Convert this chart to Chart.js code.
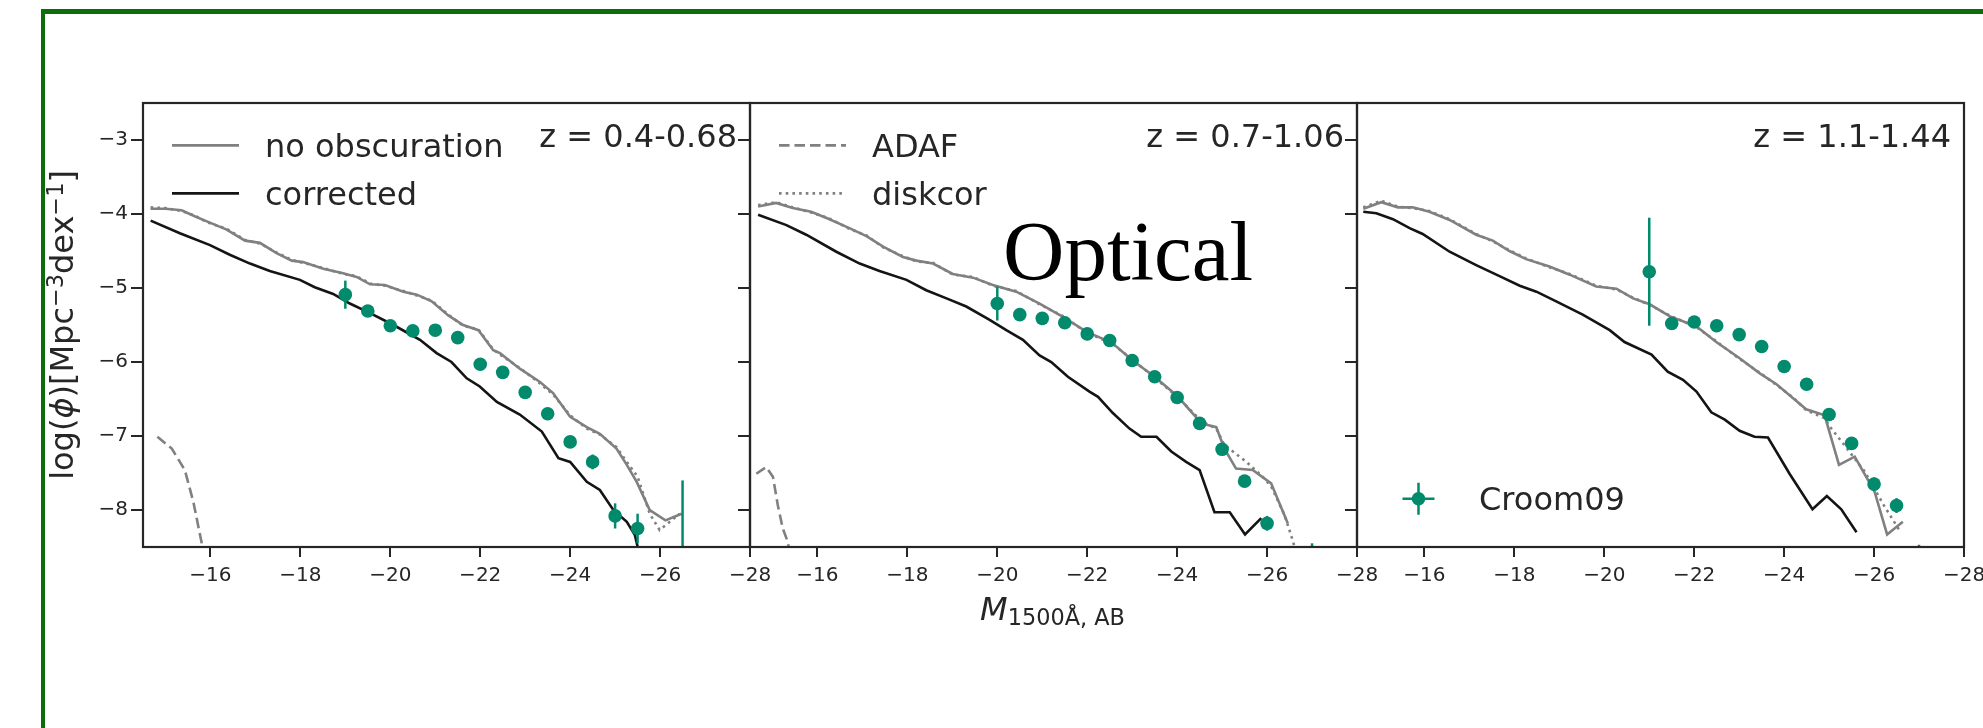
<!DOCTYPE html>
<html>
<head>
<meta charset="utf-8">
<script src="https://cdn.jsdelivr.net/npm/chart.js@4.4.1/dist/chart.umd.min.js"></script>
<style>
  html, body { margin: 0; padding: 0; background: #ffffff; }
  body { width: 1983px; height: 728px; position: relative; overflow: hidden; }
  #frame { position: absolute; left: 41px; top: 9px; width: 1990px; height: 760px;
           border-left: 4px solid #0c6d0c; border-top: 5px solid #0c6d0c; }
  canvas { position: absolute; top: 0; }
</style>
</head>
<body>
<div id="frame"></div>
<canvas id="panel1" width="747" height="728" style="left:33px"></canvas>
<canvas id="panel2" width="747" height="728" style="left:640px"></canvas>
<canvas id="panel3" width="747" height="728" style="left:1247px"></canvas>
<script>
// ---- axis ticks and bin labels ----
const zBins = ['z = 0.4-0.68', 'z = 0.7-1.06', 'z = 1.1-1.44'];
const magTicks = [-28, -26, -24, -22, -20, -18, -16];
const phiTicks = [-8, -7, -6, -5, -4, -3];

// ---- z = 0.4-0.68 ----
const noObsMag1 = [-14.67, -15.0, -15.36, -15.65, -15.92, -16.36, -16.77, -17.10, -17.47, -17.81, -18.06, -18.51, -18.95, -19.25, -19.55, -19.88, -20.29, -20.59, -20.92, -21.29, -21.62, -21.96, -22.29, -22.44, -22.88, -23.33, -23.62, -24.0, -24.37, -24.66, -25.03, -25.26, -25.48, -25.77, -26.12, -26.48];
const noObsPhi1 = [-3.93, -3.93, -3.95, -4.03, -4.10, -4.21, -4.36, -4.39, -4.53, -4.63, -4.65, -4.74, -4.80, -4.85, -4.95, -4.96, -5.05, -5.09, -5.18, -5.37, -5.50, -5.57, -5.84, -5.88, -6.09, -6.27, -6.42, -6.74, -6.88, -6.97, -7.17, -7.39, -7.62, -8.00, -8.14, -8.05];
const diskMag1 = [-14.67, -15.0, -15.36, -15.65, -15.92, -16.36, -16.77, -17.10, -17.47, -17.81, -18.06, -18.51, -18.95, -19.25, -19.55, -19.88, -20.29, -20.59, -20.92, -21.29, -21.62, -21.96, -22.29, -22.44, -22.88, -23.33, -23.62, -24.0, -24.37, -24.66, -25.03, -25.26, -25.50, -25.77, -25.99, -26.44];
const diskPhi1 = [-3.91, -3.92, -3.96, -4.02, -4.11, -4.20, -4.35, -4.40, -4.52, -4.62, -4.66, -4.73, -4.81, -4.84, -4.94, -4.97, -5.04, -5.10, -5.17, -5.36, -5.51, -5.56, -5.83, -5.90, -6.08, -6.29, -6.44, -6.72, -6.90, -6.98, -7.15, -7.35, -7.55, -8.05, -8.27, -8.05];
const corrMag1 = [-14.67, -15.32, -15.99, -16.43, -16.88, -17.32, -17.99, -18.32, -18.73, -19.10, -19.55, -20.07, -20.66, -21.03, -21.36, -21.70, -21.99, -22.37, -22.88, -23.37, -23.74, -24.0, -24.37, -24.66, -24.96, -25.26, -25.44, -25.60];
const corrPhi1 = [-4.09, -4.26, -4.42, -4.55, -4.67, -4.77, -4.89, -4.99, -5.08, -5.21, -5.34, -5.50, -5.70, -5.88, -6.00, -6.22, -6.33, -6.54, -6.71, -6.94, -7.30, -7.35, -7.62, -7.73, -8.00, -8.16, -8.34, -8.75];
const adafMag1 = [-14.82, -15.14, -15.43, -15.62, -15.80, -15.90];
const adafPhi1 = [-7.01, -7.17, -7.46, -7.89, -8.43, -8.80];
const croomMag1 = [-19.0, -19.5, -20.0, -20.5, -21.0, -21.5, -22.0, -22.5, -23.0, -23.5, -24.0, -24.5, -25.0, -25.5, -26.5];
const croomPhi1 = [-5.09, -5.31, -5.51, -5.58, -5.57, -5.67, -6.03, -6.14, -6.41, -6.70, -7.08, -7.35, -8.08, -8.25, -8.90];
const croomErr1 = [0.19, 0.03, 0.03, 0.03, 0.03, 0.04, 0.05, 0.05, 0.06, 0.07, 0.08, 0.10, 0.17, 0.20, 1.30];

// ---- z = 0.7-1.06 ----
const noObsMag2 = [-14.68, -15.08, -15.45, -15.86, -16.23, -16.71, -17.09, -17.46, -17.90, -18.20, -18.57, -19.01, -19.46, -19.90, -20.42, -20.94, -21.46, -21.98, -22.55, -23.01, -23.50, -24.02, -24.54, -24.87, -25.05, -25.31, -25.68, -26.09, -26.46];
const noObsPhi2 = [-3.90, -3.85, -3.92, -3.97, -4.06, -4.19, -4.30, -4.44, -4.58, -4.63, -4.67, -4.81, -4.86, -4.96, -5.05, -5.21, -5.39, -5.59, -5.74, -5.98, -6.20, -6.47, -6.83, -6.88, -7.17, -7.44, -7.46, -7.64, -8.18];
const diskMag2 = [-14.68, -15.08, -15.45, -15.86, -16.23, -16.71, -17.09, -17.46, -17.90, -18.20, -18.57, -19.01, -19.46, -19.90, -20.42, -20.94, -21.46, -21.98, -22.55, -23.01, -23.50, -24.02, -24.54, -24.87, -25.05, -25.54, -25.90, -26.09, -26.39, -26.57, -26.70];
const diskPhi2 = [-3.88, -3.84, -3.91, -3.98, -4.05, -4.20, -4.29, -4.45, -4.57, -4.64, -4.66, -4.82, -4.85, -4.97, -5.04, -5.22, -5.38, -5.60, -5.75, -5.97, -6.21, -6.48, -6.80, -6.90, -7.12, -7.35, -7.55, -7.68, -8.07, -8.41, -8.70];
const corrMag2 = [-14.68, -15.31, -15.75, -16.42, -16.94, -17.38, -17.98, -18.42, -18.87, -19.31, -19.83, -20.20, -20.57, -20.94, -21.20, -21.57, -22.05, -22.24, -22.57, -22.94, -23.20, -23.54, -23.87, -24.20, -24.50, -24.83, -25.17, -25.51, -25.87];
const corrPhi2 = [-4.01, -4.15, -4.28, -4.51, -4.67, -4.77, -4.89, -5.03, -5.14, -5.25, -5.43, -5.57, -5.70, -5.91, -6.00, -6.20, -6.40, -6.47, -6.69, -6.90, -7.01, -7.01, -7.21, -7.35, -7.46, -8.03, -8.03, -8.33, -8.11];
const adafMag2 = [-14.64, -14.86, -15.01, -15.12, -15.23, -15.34, -15.42];
const adafPhi2 = [-7.51, -7.42, -7.55, -7.94, -8.25, -8.43, -8.70];
const croomMag2 = [-20.0, -20.5, -21.0, -21.5, -22.0, -22.5, -23.0, -23.5, -24.0, -24.5, -25.0, -25.5, -26.0, -27.0];
const croomPhi2 = [-5.21, -5.36, -5.41, -5.47, -5.62, -5.71, -5.98, -6.20, -6.48, -6.83, -7.18, -7.61, -8.18, -8.90];
const croomErr2 = [0.23, 0.03, 0.03, 0.03, 0.03, 0.04, 0.04, 0.05, 0.05, 0.06, 0.07, 0.08, 0.10, 0.45];

// ---- z = 1.1-1.44 ----
const noObsMag3 = [-14.64, -15.04, -15.41, -15.74, -16.11, -16.56, -17.15, -17.52, -17.89, -18.26, -18.78, -19.23, -19.82, -20.27, -20.64, -21.01, -21.45, -22.05, -22.49, -23.01, -23.45, -23.83, -24.20, -24.49, -24.90, -25.22, -25.57, -26.01, -26.29, -26.64];
const noObsPhi3 = [-3.93, -3.84, -3.91, -3.91, -3.97, -4.08, -4.28, -4.36, -4.50, -4.61, -4.71, -4.82, -4.98, -5.01, -5.14, -5.22, -5.38, -5.52, -5.73, -5.95, -6.15, -6.30, -6.49, -6.64, -6.72, -7.39, -7.28, -7.75, -8.33, -8.16];
const diskMag3 = [-14.64, -15.04, -15.41, -15.74, -16.11, -16.56, -17.15, -17.52, -17.89, -18.26, -18.78, -19.23, -19.82, -20.27, -20.64, -21.01, -21.45, -22.05, -22.49, -23.01, -23.45, -23.83, -24.20, -24.49, -24.75, -24.90, -25.05, -25.31, -25.79, -26.24, -26.57];
const diskPhi3 = [-3.91, -3.82, -3.90, -3.92, -3.96, -4.07, -4.27, -4.37, -4.49, -4.60, -4.72, -4.81, -4.97, -5.02, -5.13, -5.23, -5.37, -5.53, -5.72, -5.96, -6.14, -6.31, -6.48, -6.65, -6.72, -6.76, -6.90, -7.10, -7.48, -7.96, -8.28];
const corrMag3 = [-14.64, -14.93, -15.30, -15.67, -15.96, -16.56, -17.15, -17.67, -18.12, -18.49, -18.93, -19.52, -20.12, -20.45, -21.05, -21.41, -21.75, -22.05, -22.38, -22.68, -23.01, -23.34, -23.64, -24.12, -24.63, -24.95, -25.27, -25.61];
const corrPhi3 = [-3.97, -3.99, -4.07, -4.19, -4.27, -4.51, -4.69, -4.84, -4.97, -5.05, -5.18, -5.36, -5.57, -5.73, -5.90, -6.13, -6.24, -6.40, -6.68, -6.78, -6.93, -7.01, -7.02, -7.51, -7.99, -7.81, -7.99, -8.30];
const adafMag3 = [];
const adafPhi3 = [];
const croomMag3 = [-21.0, -21.5, -22.0, -22.5, -23.0, -23.5, -24.0, -24.5, -25.0, -25.5, -26.0, -26.5, -27.0];
const croomPhi3 = [-4.78, -5.48, -5.46, -5.51, -5.63, -5.79, -6.06, -6.30, -6.71, -7.10, -7.65, -7.94, -8.90];
const croomErr3 = [0.73, 0.03, 0.03, 0.03, 0.04, 0.04, 0.05, 0.05, 0.06, 0.07, 0.09, 0.10, 0.43];

// ---- styling ----
const GRAY = '#808080';
const BLACK = '#141414';
const GREEN = '#018a6c';
const INK = '#262626';
const FONT = '"DejaVu Sans", sans-serif';
const DASH_ADAF = [10.5, 5];
const DASH_DISK = [2.6, 4.1];

const toXY = (mags, phis) => mags.map((m, i) => ({ x: m, y: phis[i] }));
const fmtTick = v => (v < 0 ? '\u2212' + Math.abs(v) : String(v));

const panels = [
  { canvas: 'panel1', z: zBins[0], yLabels: true,
    noObs: [noObsMag1, noObsPhi1], disk: [diskMag1, diskPhi1], corr: [corrMag1, corrPhi1],
    adaf: [adafMag1, adafPhi1], croom: [croomMag1, croomPhi1, croomErr1],
    legend: ['no obscuration', 'corrected'] },
  { canvas: 'panel2', z: zBins[1], yLabels: false,
    noObs: [noObsMag2, noObsPhi2], disk: [diskMag2, diskPhi2], corr: [corrMag2, corrPhi2],
    adaf: [adafMag2, adafPhi2], croom: [croomMag2, croomPhi2, croomErr2],
    legend: ['ADAF', 'diskcor'], xTitle: true, stamp: 'Optical' },
  { canvas: 'panel3', z: zBins[2], yLabels: false,
    noObs: [noObsMag3, noObsPhi3], disk: [diskMag3, diskPhi3], corr: [corrMag3, corrPhi3],
    adaf: [adafMag3, adafPhi3], croom: [croomMag3, croomPhi3, croomErr3],
    legend: ['Croom09'] }
];

// vertical error bars under the Croom09 markers
const errorBars = {
  id: 'errorBars',
  beforeDatasetDraw(chart, args) {
    const ds = chart.data.datasets[args.index];
    if (!ds.errors) return;
    const { ctx, chartArea: a } = chart;
    const xs = chart.scales.x, ys = chart.scales.y;
    ctx.save();
    ctx.beginPath();
    ctx.rect(a.left, a.top, a.right - a.left, a.bottom - a.top);
    ctx.clip();
    ctx.strokeStyle = ds.pointBackgroundColor;
    ctx.lineWidth = 2.5;
    ds.data.forEach((p, i) => {
      const e = ds.errors[i];
      const px = xs.getPixelForValue(p.x);
      ctx.beginPath();
      ctx.moveTo(px, ys.getPixelForValue(p.y + e));
      ctx.lineTo(px, ys.getPixelForValue(p.y - e));
      ctx.stroke();
    });
    ctx.restore();
  }
};

function drawLineHandle(ctx, x0, x1, y, ds) {
  ctx.save();
  ctx.strokeStyle = ds.borderColor;
  ctx.lineWidth = ds.borderWidth;
  ctx.setLineDash(ds.borderDash || []);
  ctx.beginPath();
  ctx.moveTo(x0, y);
  ctx.lineTo(x1, y);
  ctx.stroke();
  ctx.restore();
}

function drawMathLabel(ctx, parts, size) {
  // parts: [text, style] where style is 'rm', 'it', 'sup' or 'sub'
  const fontFor = s => {
    if (s === 'it') return 'italic ' + size + 'px ' + FONT;
    if (s === 'sup' || s === 'sub') return (size * 0.7) + 'px ' + FONT;
    return size + 'px ' + FONT;
  };
  let w = 0;
  parts.forEach(([t, s]) => { ctx.font = fontFor(s); w += ctx.measureText(t).width; });
  let x = -w / 2;
  parts.forEach(([t, s]) => {
    ctx.font = fontFor(s);
    const dy = s === 'sup' ? -size * 0.31 : (s === 'sub' ? size * 0.18 : 0);
    ctx.fillText(t, x, dy);
    x += ctx.measureText(t).width;
  });
}

// frame, bin label, legend and figure texts
const decor = {
  id: 'decor',
  afterDraw(chart, args, opts) {
    const { ctx, chartArea: a } = chart;
    const p = opts.panel;
    const ds = chart.data.datasets;
    const byLabel = l => ds.find(d => d.label === l);
    ctx.save();
    ctx.strokeStyle = INK;
    ctx.lineWidth = 2.2;
    ctx.strokeRect(a.left, a.top, a.right - a.left, a.bottom - a.top);

    ctx.fillStyle = INK;
    ctx.font = '32px ' + FONT;
    ctx.textAlign = 'right';
    ctx.textBaseline = 'alphabetic';
    ctx.fillText(p.z, a.right - 13, a.top + 44.4);

    ctx.textAlign = 'left';
    if (p.legend.length === 2) {
      p.legend.forEach((lab, i) => {
        const d = byLabel(lab);
        const yh = a.top + 42.4 + i * 48;
        drawLineHandle(ctx, a.left + 29, a.left + 96, yh, d);
        ctx.fillStyle = INK;
        ctx.font = '32px ' + FONT;
        ctx.fillText(lab, a.left + 122, yh + 11.6);
      });
    } else {
      const d = byLabel(p.legend[0]);
      const cx = a.left + 61.5, cy = a.top + 395.7;
      ctx.strokeStyle = d.pointBackgroundColor;
      ctx.lineWidth = 2.5;
      ctx.beginPath();
      ctx.moveTo(cx - 16, cy); ctx.lineTo(cx + 16, cy);
      ctx.moveTo(cx, cy - 16); ctx.lineTo(cx, cy + 16);
      ctx.stroke();
      ctx.fillStyle = d.pointBackgroundColor;
      ctx.beginPath();
      ctx.arc(cx, cy, d.pointRadius, 0, Math.PI * 2);
      ctx.fill();
      ctx.fillStyle = INK;
      ctx.font = '32px ' + FONT;
      ctx.fillText(p.legend[0], a.left + 122, a.top + 406.7);
    }

    if (p.yLabels) {
      ctx.save();
      ctx.fillStyle = INK;
      ctx.translate(a.left - 70.3, (a.top + a.bottom) / 2);
      ctx.rotate(-Math.PI / 2);
      ctx.textAlign = 'left';
      drawMathLabel(ctx, [['log(', 'rm'], ['\u03d5', 'it'], [')[Mpc', 'rm'], ['\u22123', 'sup'],
                          ['dex', 'rm'], ['\u22121', 'sup'], [']', 'rm']], 32);
      ctx.restore();
    }

    if (p.xTitle) {
      ctx.save();
      ctx.fillStyle = INK;
      ctx.translate(a.left + 302.5, a.bottom + 72.6);
      ctx.textAlign = 'left';
      drawMathLabel(ctx, [['M', 'it'], ['1500\u00c5, AB', 'sub']], 32);
      ctx.restore();
    }

    if (p.stamp) {
      ctx.fillStyle = '#000000';
      ctx.font = '85px "Liberation Serif", "Times New Roman", serif';
      ctx.textAlign = 'left';
      ctx.fillText(p.stamp, a.left + 253, a.top + 177);
    }
    ctx.restore();
  }
};

panels.forEach(p => {
  const lineDs = (label, pair, color, dash) => ({
    label, data: toXY(pair[0], pair[1]), borderColor: color, borderWidth: 2.6,
    borderDash: dash, pointRadius: 0, tension: 0, fill: false, clip: 0
  });
  const datasets = [
    { label: 'Croom09', data: toXY(p.croom[0], p.croom[1]), errors: p.croom[2],
      showLine: false, pointRadius: 6.8, pointHoverRadius: 6.8, pointBorderWidth: 0,
      pointBackgroundColor: GREEN, borderColor: GREEN, clip: 0 },
    lineDs('corrected', p.corr, BLACK, []),
    lineDs('no obscuration', p.noObs, GRAY, []),
    lineDs('diskcor', p.disk, GRAY, DASH_DISK),
    lineDs('ADAF', p.adaf, GRAY, DASH_ADAF)
  ];
  new Chart(document.getElementById(p.canvas), {
    type: 'line',
    data: { datasets },
    plugins: [errorBars, decor],
    options: {
      responsive: false,
      animation: false,
      devicePixelRatio: 1,
      events: [],
      layout: { padding: { top: 103, left: 0, right: 30, bottom: 0 } },
      plugins: { legend: { display: false }, tooltip: { enabled: false }, decor: { panel: p } },
      scales: {
        x: {
          type: 'linear', reverse: true, min: -28, max: -14.5,
          afterBuildTicks: s => { s.ticks = magTicks.map(v => ({ value: v })); },
          afterFit: s => { s.height = 181; },
          border: { display: false },
          grid: { drawOnChartArea: false, drawTicks: true, tickLength: 10, lineWidth: 2, color: INK },
          ticks: { color: INK, font: { family: FONT, size: 20 }, padding: 7, maxRotation: 0,
                   autoSkip: false, callback: v => fmtTick(v) }
        },
        y: {
          type: 'linear', min: -8.5, max: -2.5,
          afterBuildTicks: s => { s.ticks = phiTicks.map(v => ({ value: v })); },
          afterFit: s => { s.width = 110; },
          border: { display: false },
          grid: { drawOnChartArea: false, drawTicks: true, tickLength: 12, lineWidth: 2, color: INK },
          ticks: { display: p.yLabels, color: INK, font: { family: FONT, size: 20 }, padding: 3,
                   callback: v => fmtTick(v) }
        }
      }
    }
  });
});
</script>
</body>
</html>
